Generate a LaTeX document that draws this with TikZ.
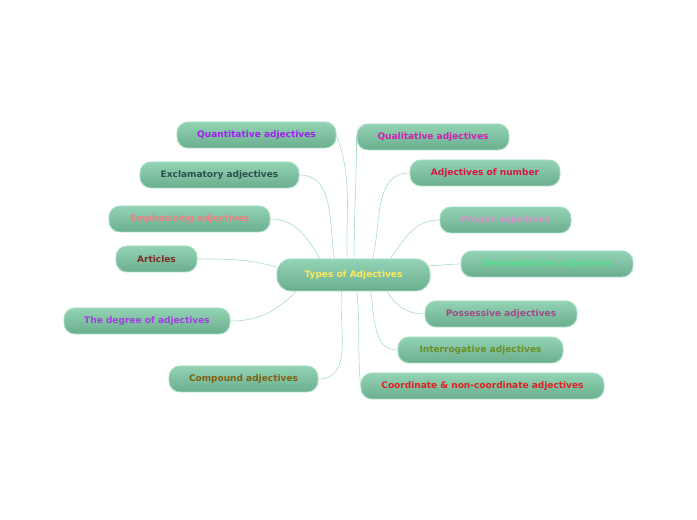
\documentclass[tikz,border=0pt]{standalone}
\usepackage{fontspec}
\setmainfont{DejaVu Sans}
\usetikzlibrary{positioning}

\definecolor{boxtop}{HTML}{93D3B5}
\definecolor{boxbot}{HTML}{6AAE8E}
\definecolor{boxedge}{HTML}{A6DCC4}
\definecolor{linkcol}{HTML}{A8DCC5}

\tikzset{
    topic/.style = {rectangle, rounded corners=11pt,
        top color=boxtop, bottom color=boxbot, draw=boxedge,
        line width=0.9pt, minimum height=26pt, inner sep=0pt,
        font=\fontsize{9}{11}\selectfont\bfseries},
    central/.style = {topic, rounded corners=14pt, minimum height=32pt},
    link/.style = {draw=linkcol, line width=0.6pt}
}

\begin{document}
\begin{tikzpicture} [x=1pt, y=1pt,
            on grid]

        \useasboundingbox (0,0) rectangle (697,520);

        % Main topic
        \node (root) [central, minimum width=153pt,
            text={rgb,255:red,255;green,232;blue,96}] at (353.5,245) {Types of Adjectives};

        % Quantitative
        \node (quant) [topic, minimum width=159pt, text={rgb,255:red,160;green,32;blue,240},
            above left = 140pt and 97pt of root] {Quantitative adjectives};

        % Qualitative
        \node (qual) [topic, minimum width=152pt, text={rgb,255:red,208;green,32;blue,176},
            above right = 138pt and 79.5pt of root] {Qualitative adjectives};

        % Exclamatory
        \node (excl) [topic, minimum width=159pt, text={rgb,255:red,47;green,79;blue,79},
            above left = 100pt and 134pt of root] {Exclamatory adjectives};

        % Number
        \node (num) [topic, minimum width=150pt, text={rgb,255:red,220;green,20;blue,70},
            above right = 102pt and 131.5pt of root] {Adjectives of number};

        % Emphasizing
        \node (emph) [topic, minimum width=161pt, text={rgb,255:red,240;green,128;blue,128},
            above left = 56pt and 164pt of root] {Emphasizing adjectives};

        % Proper
        \node (proper) [topic, minimum width=131pt, text={rgb,255:red,214;green,143;blue,200},
            above right = 55pt and 152pt of root] {Proper adjectives};

        % Articles
        \node (art) [topic, minimum width=81pt, text={rgb,255:red,128;green,42;blue,42},
            above left = 16pt and 197pt of root] {Articles};

        % Demonstrative
        \node (demo) [topic, minimum width=172pt, text={rgb,255:red,80;green,224;blue,138},
            above right = 11pt and 193.5pt of root] {Demonstrative adjectives};

        % Degree
        \node (degree) [topic, minimum width=166pt, text={rgb,255:red,160;green,64;blue,224},
            below left = 46pt and 206.5pt of root] {The degree of adjectives};

        % Possessive
        \node (poss) [topic, minimum width=152pt, text={rgb,255:red,160;green,74;blue,138},
            below right = 39pt and 147.5pt of root] {Possessive adjectives};

        % Interrogative
        \node (inter) [topic, minimum width=165pt, text={rgb,255:red,107;green,142;blue,35},
            below right = 75pt and 127pt of root] {Interrogative adjectives};

        % Compound
        \node (comp) [topic, minimum width=149pt, text={rgb,255:red,128;green,96;blue,16},
            below left = 104pt and 110pt of root] {Compound adjectives};

        % Coordinate
        \node (coord) [topic, minimum width=243pt, text={rgb,255:red,224;green,32;blue,32},
            below right = 111pt and 129pt of root] {Coordinate \& non-coordinate adjectives};



        % Links
        \path [link]
            (quant.east) edge [out=-70, in=92] (root.111)
            (qual.west) edge [out=-90, in=90] (root.88)
            (excl.east) edge [out=0, in=100] (root.139)
            (num.west) edge [out=180, in=75] (root.41)
            (emph.east) edge [out=0, in=120] (root.154)
            (proper.west) edge [out=180, in=55] (root.24)
            (art.east) edge [out=0, in=165] (root.174)
            (demo.west) edge [out=180, in=0] (root.7)
            (degree.east) edge [out=0, in=225] (root.196)
            (poss.west) edge [out=180, in=300] (root.334)
            (inter.west) edge [out=180, in=280] (root.316)
            (comp.east) edge [out=0, in=265] (root.234)
            (coord.west) edge [out=95, in=275] (root.282)
            ;
        \end{tikzpicture}
\end{document}
